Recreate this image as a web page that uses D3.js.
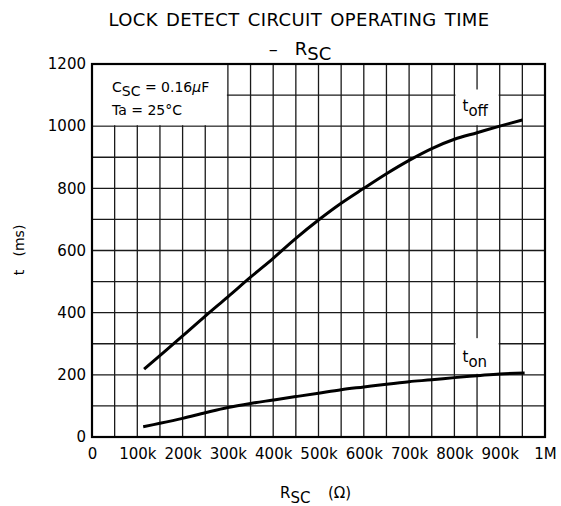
<!DOCTYPE html>
<html>
<head>
<meta charset="utf-8">
<script src="https://cdn.jsdelivr.net/npm/d3@7"></script>
<style>
  body { margin: 0; background: #fff; }
  text { font-family: "DejaVu Sans", sans-serif; fill: #000; }
</style>
</head>
<body>
<svg id="chart"></svg>
<script>
// R_SC in kOhm, t in ms
const tOffR = [115, 200, 250, 300, 350, 400, 450, 500, 550, 600, 650, 700, 750, 800, 850, 900, 950];
const tOff  = [218, 325, 389, 451, 514, 575, 639, 698, 752, 800, 847, 890, 928, 958, 979, 1000, 1020];
const tOnR  = [113, 150, 200, 250, 300, 350, 400, 450, 500, 550, 600, 650, 700, 750, 800, 850, 900, 955];
const tOn   = [33, 44, 60, 78, 95, 108, 119, 130, 141, 152, 161, 170, 178, 184, 191, 197, 203, 206];

const xTicks = [0, 100, 200, 300, 400, 500, 600, 700, 800, 900, 1000];
const xTickLabels = ["0", "100k", "200k", "300k", "400k", "500k", "600k", "700k", "800k", "900k", "1M"];
const yTicks = [0, 200, 400, 600, 800, 1000, 1200];

const W = 561, H = 506;
const margin = { top: 64, right: 16, bottom: 69, left: 92 },
      width = W - margin.left - margin.right,
      height = H - margin.top - margin.bottom;

const svg = d3.select("#chart").attr("width", W).attr("height", H);
const g = svg.append("g").attr("transform", `translate(${margin.left},${margin.top})`);

const x = d3.scaleLinear().domain([0, 1000]).range([0, width]);
const y = d3.scaleLinear().domain([0, 1200]).range([height, 0]);

// grid every 50k / 100ms
g.append("g").selectAll("line")
  .data(d3.range(50, 1000, 50))
  .enter().append("line")
  .attr("x1", d => x(d)).attr("x2", d => x(d))
  .attr("y1", 0).attr("y2", height)
  .attr("stroke", "#1a1a1a").attr("stroke-width", 1.3);

g.append("g").selectAll("line")
  .data(d3.range(100, 1200, 100))
  .enter().append("line")
  .attr("x1", 0).attr("x2", width)
  .attr("y1", d => y(d)).attr("y2", d => y(d))
  .attr("stroke", "#1a1a1a").attr("stroke-width", 1.3);

// white boxes over grid (condition box, curve labels)
g.append("rect")
  .attr("x", x(0) + 1).attr("y", y(1200) + 1)
  .attr("width", x(300) - x(0) - 2).attr("height", y(1000) - y(1200) - 2)
  .attr("fill", "#fff");
g.append("rect")
  .attr("x", x(800) + 1).attr("y", y(1118))
  .attr("width", x(900) - x(800) - 2).attr("height", y(1000) - y(1118) - 1)
  .attr("fill", "#fff");
g.append("rect")
  .attr("x", x(800) + 1).attr("y", y(318))
  .attr("width", x(900) - x(800) - 2).attr("height", y(200) - y(318) - 1)
  .attr("fill", "#fff");

// frame
g.append("rect")
  .attr("width", width).attr("height", height)
  .attr("fill", "none").attr("stroke", "#000").attr("stroke-width", 2.2);

// axes (labels only)
const yAxis = g.append("g")
  .call(d3.axisLeft(y).tickValues(yTicks).tickFormat(d3.format("d")).tickSize(0).tickPadding(6));
const xAxis = g.append("g")
  .attr("transform", `translate(0,${height})`)
  .call(d3.axisBottom(x).tickValues(xTicks).tickFormat((d, i) => xTickLabels[i]).tickSize(0).tickPadding(11));
[yAxis, xAxis].forEach(a => {
  a.select(".domain").remove();
  a.selectAll("text").style("font-size", "15px").style("font-family", "'DejaVu Sans', sans-serif");
});

// curves
const line = d3.line()
  .x(d => x(d[0])).y(d => y(d[1]))
  .curve(d3.curveCatmullRom);

g.append("path")
  .datum(tOffR.map((r, i) => [r, tOff[i]]))
  .attr("d", line).attr("fill", "none")
  .attr("stroke", "#000").attr("stroke-width", 3);
g.append("path")
  .datum(tOnR.map((r, i) => [r, tOn[i]]))
  .attr("d", line).attr("fill", "none")
  .attr("stroke", "#000").attr("stroke-width", 3);

// curve labels
const offLbl = g.append("text").attr("x", x(818)).attr("y", y(1050)).style("font-size", "15px");
offLbl.append("tspan").text("t");
offLbl.append("tspan").attr("dy", 5).text("off");

const onLbl = g.append("text").attr("x", x(818)).attr("y", y(240)).style("font-size", "15px");
onLbl.append("tspan").text("t");
onLbl.append("tspan").attr("dy", 5).text("on");

// condition text
const c1 = g.append("text").attr("x", 20).attr("y", 28).style("font-size", "14px");
c1.append("tspan").text("C");
c1.append("tspan").attr("dy", 4).text("SC");
c1.append("tspan").attr("dy", -4).text(" = 0.16");
c1.append("tspan").style("font-style", "italic").text("μ");
c1.append("tspan").text("F");
g.append("text").attr("x", 20).attr("y", 51).style("font-size", "14px").text("Ta = 25°C");

// title
svg.append("text")
  .attr("x", 299).attr("y", 26)
  .attr("text-anchor", "middle")
  .style("font-size", "18px").style("letter-spacing", "0.4px").style("word-spacing", "2px")
  .text("LOCK DETECT CIRCUIT OPERATING TIME");
const t2 = svg.append("text")
  .attr("x", 300).attr("y", 55)
  .attr("text-anchor", "middle")
  .style("font-size", "18px").style("white-space", "pre");
t2.append("tspan").text("–   R");
t2.append("tspan").attr("dy", 5).text("SC");

// axis titles
svg.append("text")
  .attr("transform", "translate(24,250) rotate(-90)")
  .attr("text-anchor", "middle")
  .style("font-size", "14px").style("white-space", "pre")
  .text("t   (ms)");

const xt = svg.append("text")
  .attr("x", 280).attr("y", 498)
  .style("font-size", "15px").style("white-space", "pre");
xt.append("tspan").text("R");
xt.append("tspan").attr("dy", 5).text("SC");
xt.append("tspan").attr("dy", -5).attr("dx", 8).text("  (Ω)");
</script>
</body>
</html>
